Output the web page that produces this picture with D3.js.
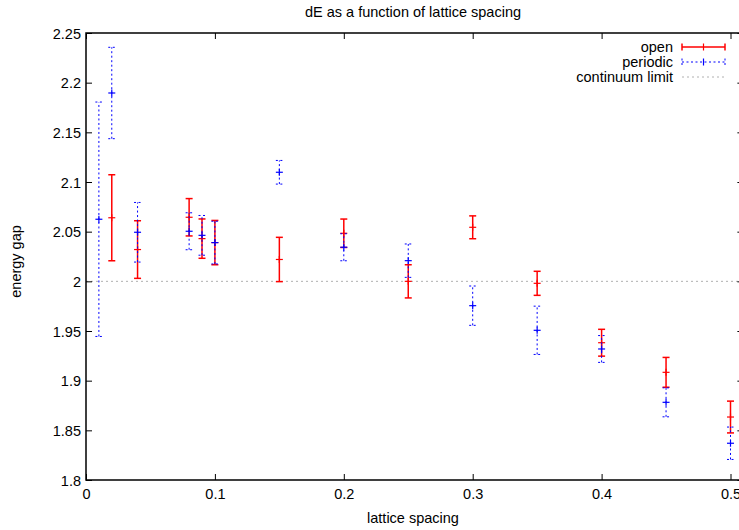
<!DOCTYPE html>
<html><head><meta charset="utf-8">
<script src="https://cdn.jsdelivr.net/npm/d3@7"></script>
<style>body{margin:0;background:#fff}svg{display:block;font-family:"Liberation Sans",Arial,sans-serif}</style>
</head><body>
<svg id="c" width="739" height="530"></svg>
<script>
const title = "dE as a function of lattice spacing";
const xLabel = "lattice spacing";
const yLabel = "energy gap";
const xTicks = [0, 0.1, 0.2, 0.3, 0.4, 0.5];
const yTicks = [1.8, 1.85, 1.9, 1.95, 2.0, 2.05, 2.1, 2.15, 2.2, 2.25];
const seriesNames = ["open", "periodic", "continuum limit"];
const openX   = [0.02, 0.04, 0.08, 0.09, 0.1, 0.15, 0.2, 0.25, 0.3, 0.35, 0.4, 0.45, 0.5];
const openY   = [2.064, 2.032, 2.0645, 2.043, 2.039, 2.022, 2.0484, 2.000, 2.0544, 1.998, 1.9382, 1.9084, 1.8634];
const openErr = [0.0433, 0.029, 0.0188, 0.0198, 0.0223, 0.0223, 0.0143, 0.0167, 0.0115, 0.0121, 0.0135, 0.015, 0.016];
const perX    = [0.01, 0.02, 0.04, 0.08, 0.09, 0.1, 0.15, 0.2, 0.25, 0.3, 0.35, 0.4, 0.45, 0.5];
const perY    = [2.0625, 2.1896, 2.0494, 2.0504, 2.0463, 2.039, 2.1098, 2.0343, 2.0208, 1.9755, 1.9507, 1.9319, 1.8782, 1.837];
const perErr  = [0.118, 0.046, 0.030, 0.0186, 0.020, 0.0215, 0.0119, 0.0136, 0.0168, 0.0198, 0.0243, 0.0135, 0.0146, 0.0163];
const continuumLimit = 2.0;
const xMax = 0.51;

const svg = d3.select("#c");
const x = d3.scaleLinear().domain([0, 0.5]).range([86, 730.5]);
const y = d3.scaleLinear().domain([1.8, 2.25]).range([480, 33]);
const x0 = x(0), x1 = x(xMax), yb = y(1.8), yt = y(2.25);

// continuum limit line
svg.append("line").attr("x1", x0).attr("x2", x1).attr("y1", y(continuumLimit)).attr("y2", y(continuumLimit))
  .attr("stroke", "#b0b0b0").attr("stroke-width", 1).attr("stroke-dasharray", "2,3");

// axes
const fs = "14.5px";
const gx = svg.append("g").attr("transform", `translate(0,${yb})`)
  .call(d3.axisBottom(x).tickValues(xTicks).tickFormat(d3.format("")).tickSizeInner(-6).tickSizeOuter(0).tickPadding(9));
const gy = svg.append("g").attr("transform", `translate(${x0},0)`)
  .call(d3.axisLeft(y).tickValues(yTicks).tickFormat(d => d3.format("")(+d.toFixed(2))).tickSizeInner(-6).tickSizeOuter(0).tickPadding(5));
const gxt = svg.append("g").attr("transform", `translate(0,${yt})`)
  .call(d3.axisTop(x).tickValues(xTicks).tickFormat("").tickSizeInner(-6).tickSizeOuter(0));
const gyr = svg.append("g").attr("transform", `translate(${x1},0)`)
  .call(d3.axisRight(y).tickValues(yTicks).tickFormat("").tickSizeInner(-6).tickSizeOuter(0));
[gx, gy, gxt, gyr].forEach(g => {
  g.select(".domain").remove();
  g.selectAll(".tick line").attr("stroke", "#000").attr("stroke-width", 1);
  g.selectAll("text").attr("font-size", fs).attr("fill", "#000").attr("font-family", "Liberation Sans, Arial, sans-serif");
});
gy.selectAll("text").attr("dy", "0.35em");

// frame
svg.append("path").attr("d", `M${x1},${yt}H${x0}V${yb}H${x1}`)
  .attr("fill", "none").attr("stroke", "#000").attr("stroke-width", 1.5);

// titles
svg.append("text").attr("x", 413).attr("y", 17).attr("text-anchor", "middle").attr("font-size", fs).text(title);
svg.append("text").attr("x", 413).attr("y", 523).attr("text-anchor", "middle").attr("font-size", fs).text(xLabel);
svg.append("text").attr("transform", `translate(21,${y(2.02)}) rotate(-90)`).attr("text-anchor", "middle").attr("font-size", fs).text(yLabel);

function errorBars(xs, ys, es, color, width, dash) {
  const g = svg.append("g");
  const cap = 3.5, m = 3.5;
  xs.forEach((xv, i) => {
    const cx = x(xv), cy = y(ys[i]), lo = y(ys[i] - es[i]), hi = y(ys[i] + es[i]);
    const seg = (a, b, c, d) => g.append("line").attr("x1", a).attr("y1", b).attr("x2", c).attr("y2", d)
      .attr("stroke", color).attr("stroke-width", width).attr("stroke-dasharray", dash);
    seg(cx, lo, cx, hi);
    seg(cx - cap, lo, cx + cap, lo);
    seg(cx - cap, hi, cx + cap, hi);
    g.append("line").attr("x1", cx - m).attr("x2", cx + m).attr("y1", cy).attr("y2", cy).attr("stroke", color).attr("stroke-width", 1.2);
    g.append("line").attr("x1", cx).attr("x2", cx).attr("y1", cy - m).attr("y2", cy + m).attr("stroke", color).attr("stroke-width", 1.2);
  });
}
errorBars(openX, openY, openErr, "#ff0000", 1.5, null);
errorBars(perX, perY, perErr, "#0000ff", 1, "2,2.5");

// legend
const leg = svg.append("g");
const lx1 = 682, lx2 = 725, rows = [47, 62, 77];
const styles = [{c: "#ff0000", w: 1.5, d: null}, {c: "#0000ff", w: 1, d: "2,2.5"}, {c: "#b0b0b0", w: 1, d: "2,3"}];
seriesNames.forEach((n, i) => {
  const ly = rows[i], s = styles[i];
  leg.append("text").attr("x", 673).attr("y", ly).attr("dy", "0.35em").attr("text-anchor", "end").attr("font-size", fs).text(n);
  const seg = (a, b, c, d) => leg.append("line").attr("x1", a).attr("y1", b).attr("x2", c).attr("y2", d)
    .attr("stroke", s.c).attr("stroke-width", s.w).attr("stroke-dasharray", s.d);
  seg(lx1, ly, lx2, ly);
  if (i < 2) {
    seg(lx1, ly - 3.5, lx1, ly + 3.5);
    seg(lx2, ly - 3.5, lx2, ly + 3.5);
    const mx = (lx1 + lx2) / 2;
    leg.append("line").attr("x1", mx).attr("x2", mx).attr("y1", ly - 3.5).attr("y2", ly + 3.5).attr("stroke", s.c).attr("stroke-width", 1.2);
  }
});
</script>
</body></html>
